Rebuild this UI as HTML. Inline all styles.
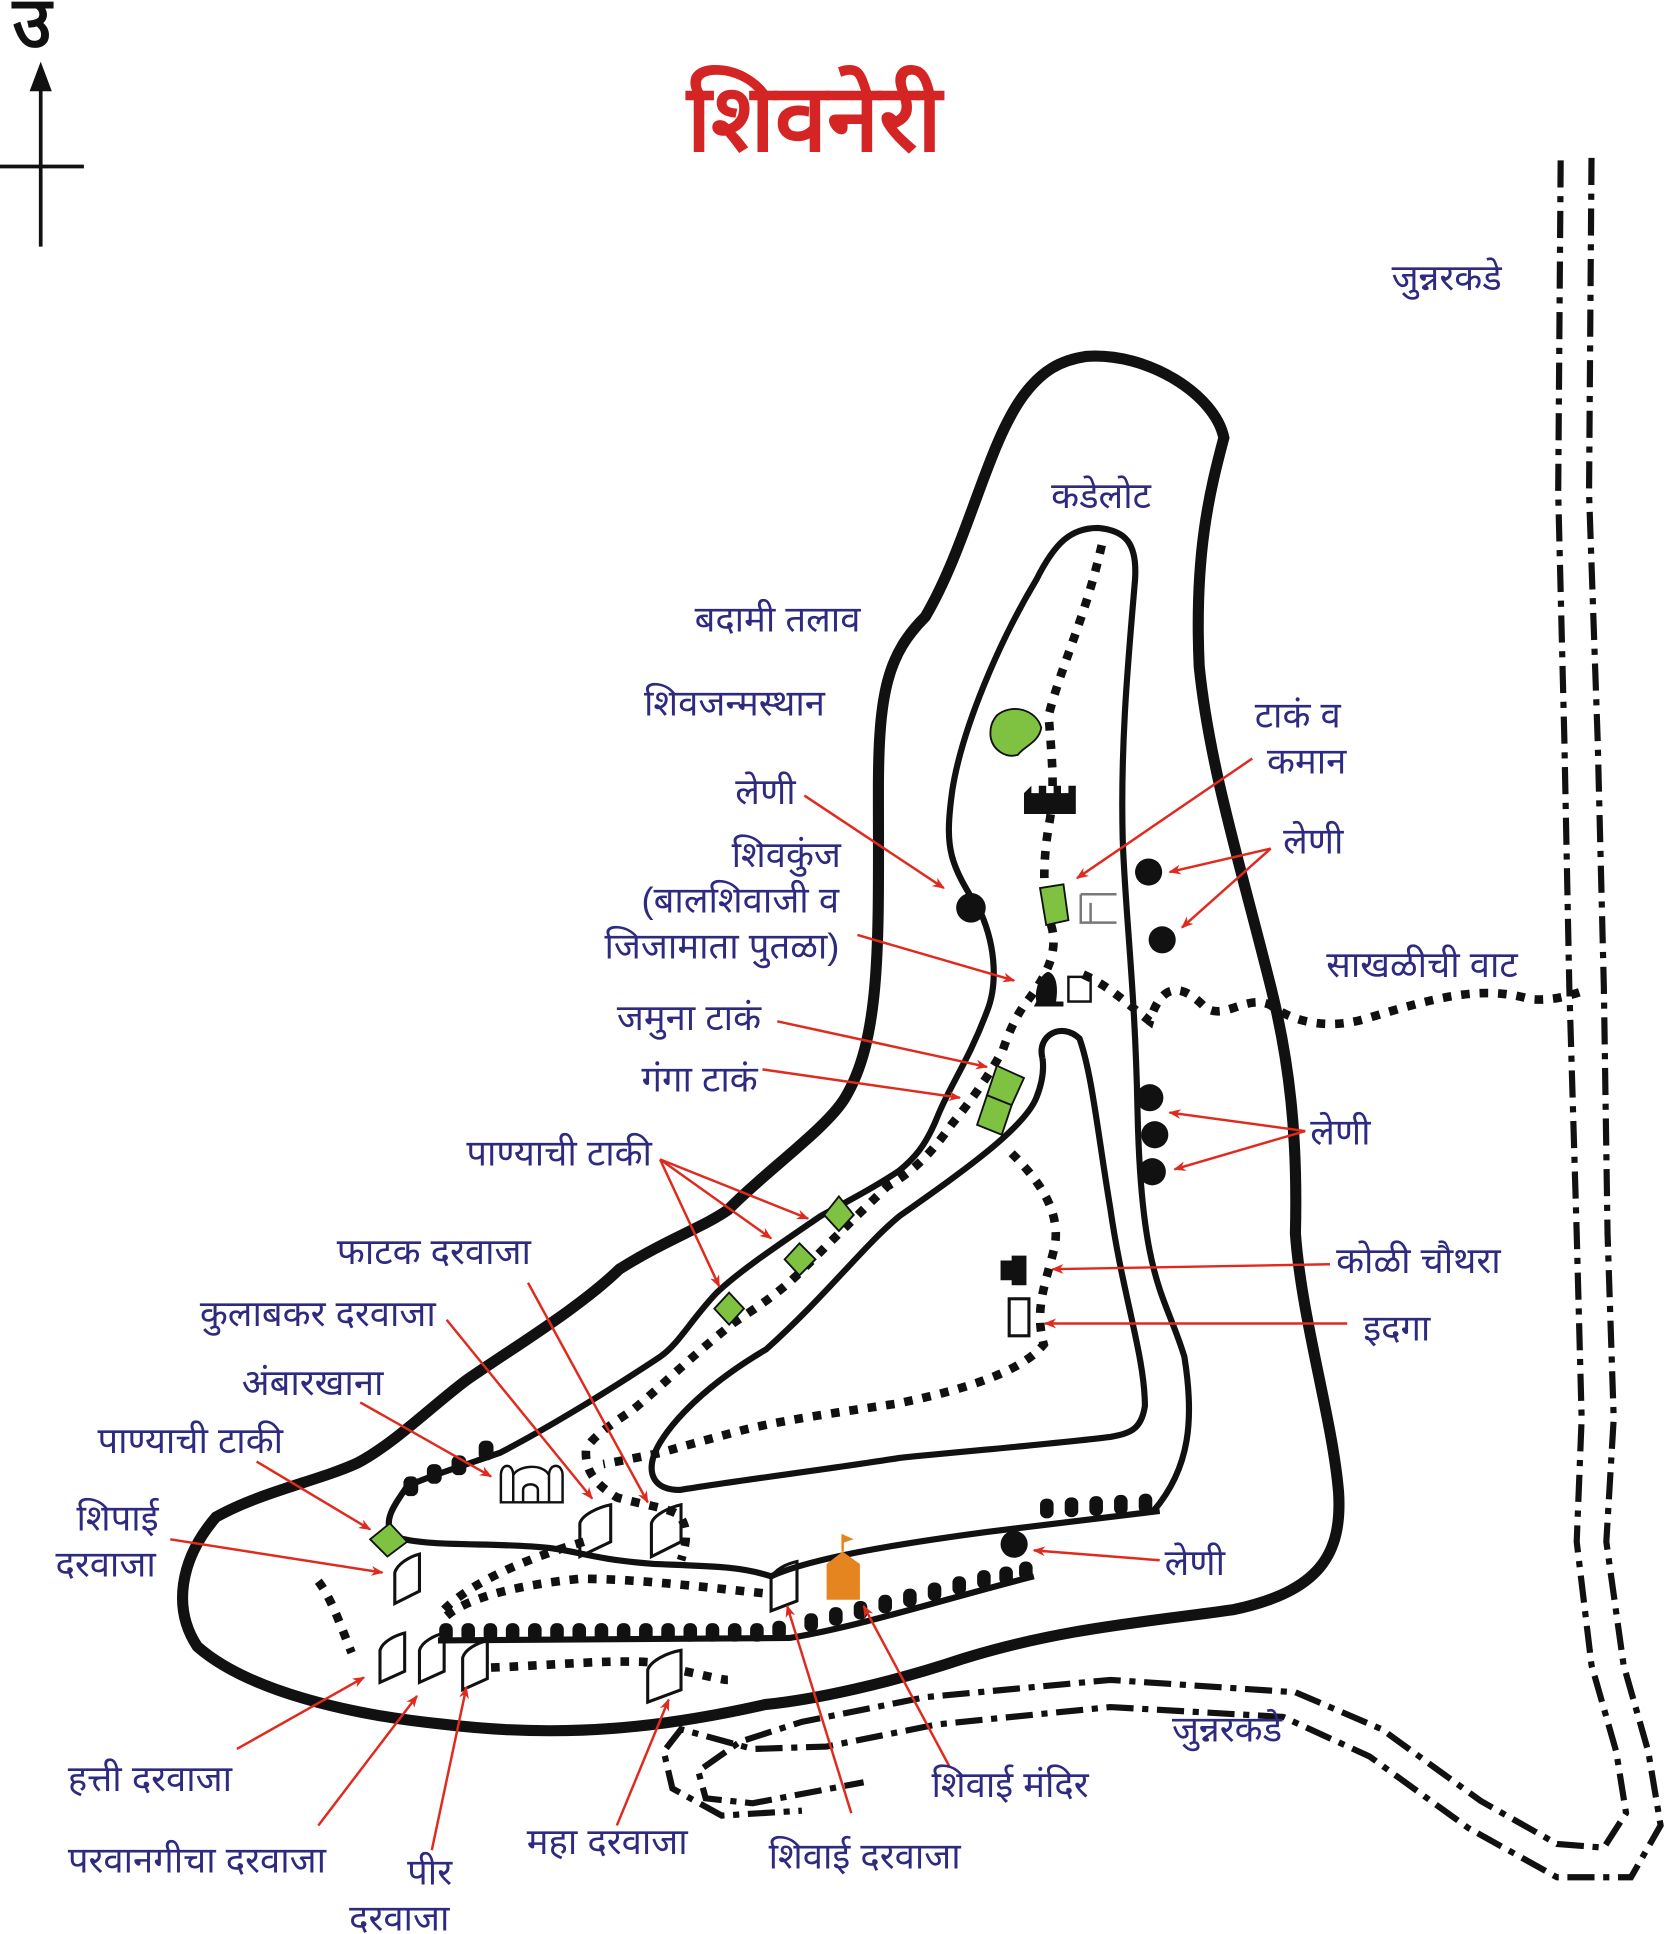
<!DOCTYPE html>
<html><head><meta charset="utf-8"><style>
html,body{margin:0;padding:0;background:#fff}
svg{display:block}
text{font-family:"Liberation Sans","Noto Sans CJK SC",sans-serif;fill:#2d2a80;font-size:29.5px}
</style></head><body>
<svg width="1668" height="1934" viewBox="0 0 1352 1568" preserveAspectRatio="none" xmlns="http://www.w3.org/2000/svg">
<defs>
<marker id="ah" markerWidth="10" markerHeight="8" refX="9" refY="4" orient="auto" markerUnits="userSpaceOnUse"><path d="M0,0 L10,4 L0,8 L3,4 Z" fill="#e02a1e"/></marker>
</defs>
<line x1="33" y1="62" x2="33" y2="200" stroke="#111" stroke-width="3"/>
<line x1="0" y1="135" x2="68" y2="135" stroke="#111" stroke-width="3"/>
<path d="M33,50 L24,74 L42,74 Z" fill="#111"/>
<text x="10" y="38" style="font-size:58px;fill:#111;stroke:#111;stroke-width:1.5">उ</text>
<text x="660" y="122" text-anchor="middle" style="font-size:76px;font-weight:bold;fill:#d42424">शिवनेरी</text>

<g fill="none" stroke="#111" stroke-width="5" stroke-dasharray="22,7,5,7">
<path d="M1265,130 L1263,400 L1268,600 L1272,800 L1278,1000 L1282,1150 L1278,1250 L1290,1350 L1310,1420 L1318,1470 L1300,1498 L1262,1495 L1200,1460 L1120,1402 L1050,1372 L900,1362 L750,1376 L650,1396 L600,1412 L566,1436 L572,1458 L610,1462 L700,1445"/>
<path d="M1290,128 L1288,400 L1295,600 L1300,800 L1303,1000 L1308,1150 L1302,1250 L1316,1350 L1336,1420 L1346,1480 L1322,1522 L1262,1522 L1190,1482 L1110,1424 L1040,1392 L900,1384 L760,1398 L670,1416 L610,1418 L552,1402 L538,1420 L545,1450 L585,1472 L650,1468"/>
</g>

<path d="M880,289 C930,285 985,320 992,355 C980,400 968,450 972,540 C980,620 1005,700 1030,800 C1045,860 1052,920 1050,1000 C1055,1070 1080,1150 1085,1210 C1088,1260 1070,1290 1000,1305 C930,1315 860,1320 780,1345 C720,1365 660,1378 620,1382 C540,1400 460,1410 360,1398 C280,1390 200,1370 160,1335 C140,1305 145,1265 175,1230 C210,1210 260,1200 290,1186 C320,1170 350,1140 378,1119 C420,1090 470,1060 502,1029 C540,1005 570,995 590,981 C620,950 670,915 685,890 C715,840 712,760 712,640 C712,560 720,530 750,500 C785,440 800,360 830,320 C845,300 860,292 880,289 Z" fill="none" stroke="#111" stroke-width="9"/>

<g fill="none" stroke="#111" stroke-width="5">
<path d="M935,1225 C965,1190 968,1150 960,1100 C945,1050 925,1040 922,900 C920,800 912,740 910,680 C908,600 915,530 920,470 C922,440 912,430 890,428 C868,428 855,440 840,470 C810,520 780,590 772,640 C765,690 770,700 795,740 C808,770 808,800 800,820 C785,860 770,880 760,905 C750,930 740,940 729,949 C710,962 685,975 665,986 C630,1010 600,1030 581,1048 C560,1070 550,1090 535,1100 C490,1130 440,1160 405,1178 C370,1190 345,1198 330,1205"/>
<path d="M845,858 C840,840 860,828 875,842 C885,870 890,920 900,980 C910,1050 928,1100 928,1140 C925,1160 915,1162 900,1165 C860,1170 800,1175 729,1182 C680,1190 600,1200 551,1208 C530,1208 525,1195 530,1180 C535,1165 560,1130 621,1094 C670,1050 700,1010 729,986 C780,950 830,915 840,890 C846,875 846,865 845,858"/>
<path d="M330,1205 C320,1220 310,1232 318,1245 C340,1255 400,1250 445,1255 C470,1258 480,1264 530,1268 C580,1270 600,1270 625,1278 C660,1262 740,1250 800,1242 C860,1235 900,1230 940,1225"/>
<path d="M355,1330 L640,1328 C700,1318 770,1295 838,1278"/>
</g>

<g fill="#111">
<rect x="327" y="1197" width="12" height="16" rx="5"/><rect x="346" y="1187" width="12" height="16" rx="5"/><rect x="366" y="1180" width="12" height="16" rx="5"/><rect x="388" y="1168" width="12" height="16" rx="5"/>
<rect x="356" y="1316" width="11" height="15" rx="5"/><rect x="374" y="1316" width="11" height="15" rx="5"/><rect x="392" y="1316" width="11" height="15" rx="5"/><rect x="410" y="1316" width="11" height="15" rx="5"/><rect x="428" y="1316" width="11" height="15" rx="5"/><rect x="446" y="1316" width="11" height="15" rx="5"/><rect x="464" y="1316" width="11" height="15" rx="5"/><rect x="482" y="1316" width="11" height="15" rx="5"/><rect x="500" y="1316" width="11" height="15" rx="5"/><rect x="518" y="1316" width="11" height="15" rx="5"/><rect x="536" y="1316" width="11" height="15" rx="5"/><rect x="554" y="1316" width="11" height="15" rx="5"/><rect x="572" y="1316" width="11" height="15" rx="5"/><rect x="590" y="1316" width="11" height="15" rx="5"/><rect x="608" y="1316" width="11" height="15" rx="5"/><rect x="626" y="1314" width="11" height="15" rx="5"/>
<rect x="652" y="1308" width="11" height="15" rx="5"/><rect x="672" y="1303" width="11" height="15" rx="5"/><rect x="692" y="1298" width="11" height="15" rx="5"/><rect x="712" y="1293" width="11" height="15" rx="5"/><rect x="732" y="1288" width="11" height="15" rx="5"/><rect x="752" y="1283" width="11" height="15" rx="5"/><rect x="772" y="1278" width="11" height="15" rx="5"/><rect x="792" y="1273" width="11" height="15" rx="5"/><rect x="810" y="1270" width="11" height="15" rx="5"/><rect x="826" y="1266" width="11" height="15" rx="5"/>
<rect x="843" y="1215" width="11" height="16" rx="5"/><rect x="863" y="1214" width="11" height="16" rx="5"/><rect x="883" y="1213" width="11" height="16" rx="5"/><rect x="903" y="1212" width="11" height="16" rx="5"/><rect x="923" y="1211" width="11" height="16" rx="5"/>
<circle cx="787" cy="736" r="12"/><circle cx="931" cy="707" r="11"/><circle cx="942" cy="762" r="11"/><circle cx="932" cy="890" r="11"/><circle cx="936" cy="920" r="11"/><circle cx="934" cy="950" r="11"/><circle cx="822" cy="1252" r="11"/>
<path d="M830,643 L830,660 L872,660 L872,637 L866,637 L866,643 L860,643 L860,637 L854,637 L854,643 L848,643 L848,637 L842,637 L842,643 L836,643 L836,637 Z"/>
<path d="M840,812 C838,800 845,788 850,788 C856,790 858,800 856,812 L862,812 L862,816 L838,816 Z"/>
<path d="M811,1022 L820,1022 L820,1018 L832,1018 L832,1042 L820,1042 L820,1038 L811,1038 Z"/>
</g>
<rect x="866" y="792" width="18" height="20" fill="none" stroke="#111" stroke-width="2"/>
<rect x="818" y="1053" width="16" height="30" fill="none" stroke="#111" stroke-width="2.5"/>
<path d="M876,725 L905,725 M876,725 L876,748 L905,748 M884,732 L884,748" fill="none" stroke="#777" stroke-width="2"/>

<g fill="none" stroke="#111" stroke-width="7" stroke-dasharray="7,8">
<path d="M893,442 C880,500 860,540 850,580 C852,610 856,640 850,670 C845,700 845,730 852,750 C858,770 850,790 830,815 C820,830 815,845 813,851 C800,875 785,895 771,912 C755,935 740,950 719,962 C690,990 670,1010 650,1030 C630,1050 610,1062 594,1073 C560,1100 535,1125 513,1143 C495,1155 480,1165 475,1175 C474,1190 480,1202 500,1214 C520,1220 540,1222 550,1228 C560,1240 555,1255 552,1265"/>
<path d="M820,935 C840,955 860,980 855,1010 C848,1040 838,1060 846,1090 C830,1110 790,1125 727,1138 C680,1145 630,1152 600,1160 C570,1168 545,1175 535,1178 C515,1182 500,1185 489,1187"/>
<path d="M878,790 C900,800 915,815 932,828 C940,800 955,795 975,815 C990,830 1010,805 1030,815 C1050,830 1080,835 1110,825 C1160,810 1200,798 1240,810 C1260,812 1275,806 1285,803"/>
<path d="M362,1310 C380,1295 420,1285 470,1280 C520,1280 580,1288 622,1292"/>
<path d="M360,1305 C380,1285 420,1265 480,1248"/>
<path d="M258,1282 C268,1295 275,1315 285,1340"/>
<path d="M398,1352 C450,1350 500,1345 530,1348 M555,1355 C570,1358 585,1362 590,1362"/>
</g>

<g fill="#7fc241" stroke="#111" stroke-width="1.5">
<path d="M808,580 C820,570 840,575 844,590 C842,602 830,605 825,612 C815,615 805,608 803,598 C802,590 804,585 808,580 Z"/>
<path d="M843,720 L862,717 L866,746 L848,750 Z"/>
<path d="M808,864 L830,874 L820,896 L800,888 Z"/>
<path d="M800,888 L820,896 L812,920 L792,912 Z"/>
<path d="M680,970 L692,985 L680,998 L668,985 Z"/>
<path d="M648,1008 L661,1021 L648,1034 L636,1021 Z"/>
<path d="M591,1048 L603,1061 L591,1074 L579,1061 Z"/>
<path d="M316,1235 L330,1250 L314,1262 L300,1248 Z"/>
</g>
<path d="M670,1268 L683,1258 L697,1268 L697,1297 L670,1297 Z" fill="#e58520"/>
<line x1="683" y1="1258" x2="683" y2="1244" stroke="#e58520" stroke-width="2"/>
<path d="M683,1244 L692,1248 L683,1251 Z" fill="#e58520"/>
<g fill="none" stroke="#111" stroke-width="2">
<path d="M406,1218 L406,1196 C406,1186 416,1186 416,1196 C420,1188 440,1186 445,1196 C445,1186 456,1186 456,1196 L456,1218 Z M416,1196 L416,1218 M445,1196 L445,1218 M424,1218 L424,1208 C424,1202 436,1202 436,1208 L436,1218"/>
</g>
<g fill="none" stroke="#111" stroke-width="2.5">
<path d="M470,1262 L470,1235 C472,1228 485,1222 495,1220 L495,1250 Z"/>
<path d="M528,1262 L528,1235 C530,1228 543,1222 552,1220 L552,1250 Z"/>
<path d="M320,1300 L320,1275 C322,1268 332,1262 340,1260 L340,1290 Z"/>
<path d="M625,1306 L625,1280 C627,1273 637,1268 646,1266 L646,1298 Z"/>
<path d="M308,1364 L308,1338 C310,1331 320,1326 328,1324 L328,1355 Z"/>
<path d="M340,1364 L340,1338 C342,1331 352,1326 360,1324 L360,1355 Z"/>
<path d="M375,1370 L375,1344 C377,1337 387,1332 395,1330 L395,1361 Z"/>
<path d="M525,1380 L525,1354 C527,1347 540,1340 552,1338 L552,1370 Z"/>
</g>

<g stroke="#e02a1e" stroke-width="2" fill="none" marker-end="url(#ah)">
<line x1="1015" y1="615" x2="873" y2="712"/>
<line x1="652" y1="645" x2="765" y2="720"/>
<line x1="1030" y1="688" x2="948" y2="707"/>
<line x1="1030" y1="688" x2="958" y2="752"/>
<line x1="695" y1="758" x2="822" y2="795"/>
<line x1="630" y1="828" x2="800" y2="865"/>
<line x1="618" y1="867" x2="778" y2="890"/>
<line x1="1058" y1="917" x2="948" y2="902"/>
<line x1="1058" y1="917" x2="952" y2="948"/>
<line x1="535" y1="940" x2="655" y2="988"/>
<line x1="535" y1="940" x2="625" y2="1004"/>
<line x1="535" y1="940" x2="583" y2="1043"/>
<line x1="428" y1="1040" x2="525" y2="1218"/>
<line x1="1078" y1="1025" x2="853" y2="1029"/>
<line x1="362" y1="1070" x2="480" y2="1215"/>
<line x1="1092" y1="1073" x2="847" y2="1073"/>
<line x1="292" y1="1137" x2="398" y2="1197"/>
<line x1="208" y1="1185" x2="300" y2="1240"/>
<line x1="138" y1="1248" x2="310" y2="1275"/>
<line x1="940" y1="1265" x2="838" y2="1257"/>
<line x1="192" y1="1418" x2="295" y2="1360"/>
<line x1="258" y1="1480" x2="338" y2="1375"/>
<line x1="350" y1="1500" x2="378" y2="1368"/>
<line x1="500" y1="1480" x2="542" y2="1378"/>
<line x1="770" y1="1433" x2="700" y2="1302"/>
<line x1="690" y1="1470" x2="638" y2="1302"/>
</g>

<text x="1128" y="235">जुन्नरकडे</text>
<text x="852" y="412">कडेलोट</text>
<text x="563" y="512">बदामी तलाव</text>
<text x="522" y="580">शिवजन्मस्थान</text>
<text x="1017" y="590">टाकं व</text>
<text x="1027" y="627">कमान</text>
<text x="596" y="652">लेणी</text>
<text x="1040" y="692">लेणी</text>
<text x="593" y="703">शिवकुंज</text>
<text x="520" y="740">(बालशिवाजी व</text>
<text x="490" y="777">जिजामाता पुतळा)</text>
<text x="1075" y="792">साखळीची वाट</text>
<text x="500" y="835">जमुना टाकं</text>
<text x="520" y="885">गंगा टाकं</text>
<text x="1062" y="928">लेणी</text>
<text x="378" y="945">पाण्याची टाकी</text>
<text x="273" y="1025">फाटक दरवाजा</text>
<text x="1083" y="1032">कोळी चौथरा</text>
<text x="162" y="1075">कुलाबकर दरवाजा</text>
<text x="1105" y="1087">इदगा</text>
<text x="196" y="1131">अंबारखाना</text>
<text x="79" y="1178">पाण्याची टाकी</text>
<text x="62" y="1241">शिपाई</text>
<text x="45" y="1278">दरवाजा</text>
<text x="944" y="1277">लेणी</text>
<text x="950" y="1412">जुन्नरकडे</text>
<text x="55" y="1452">हत्ती दरवाजा</text>
<text x="755" y="1457">शिवाई मंदिर</text>
<text x="427" y="1503">महा दरवाजा</text>
<text x="55" y="1518">परवानगीचा दरवाजा</text>
<text x="623" y="1515">शिवाई दरवाजा</text>
<text x="330" y="1528">पीर</text>
<text x="283" y="1565">दरवाजा</text>
</svg>
</body></html>
